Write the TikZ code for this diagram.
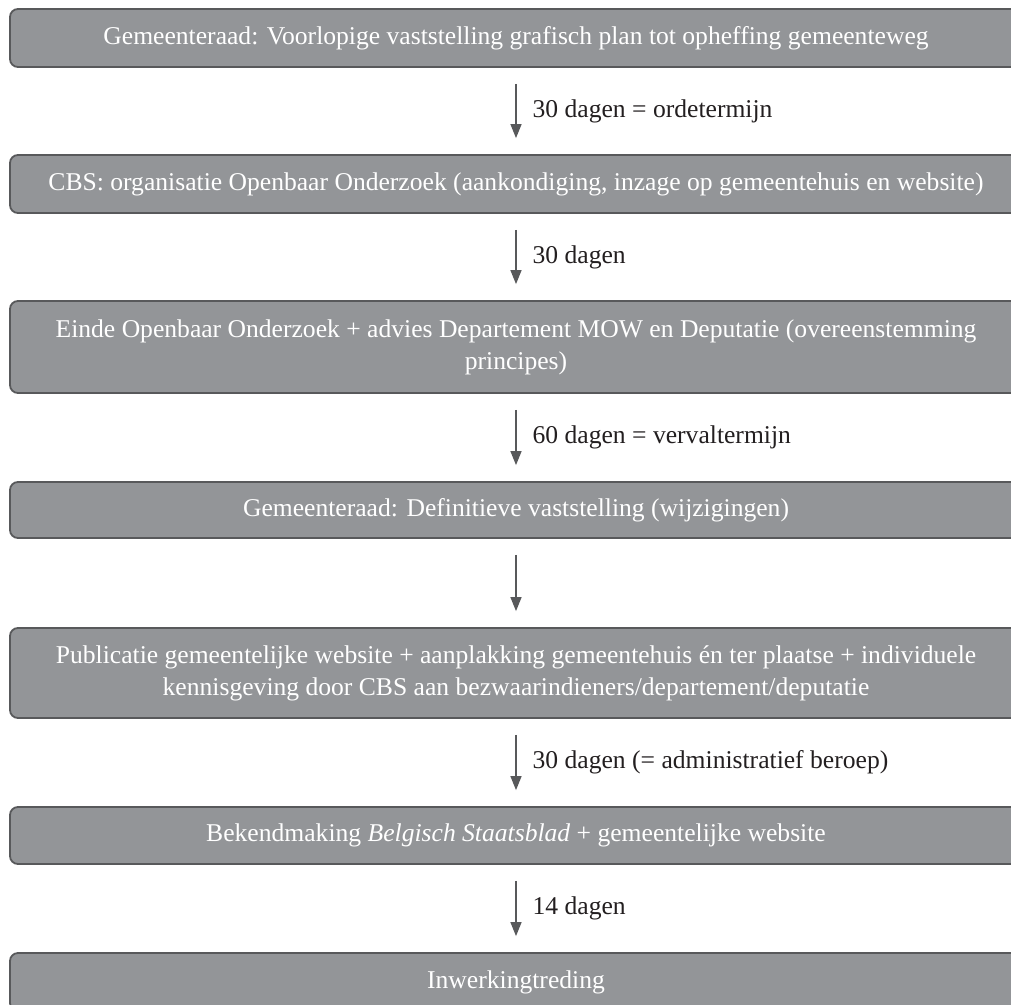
\documentclass[tikz,border=0pt]{standalone}
\usepackage{fontspec}
\setmainfont{Liberation Serif}
\usetikzlibrary{arrows.meta}
\definecolor{boxfill}{RGB}{147,149,152}
\definecolor{boxline}{RGB}{88,89,91}
\definecolor{arrowcol}{RGB}{88,89,91}
\definecolor{labelcol}{RGB}{35,31,32}
\begin{document}
\begin{tikzpicture}[x=1pt,y=-1pt,
  flowbox/.style={draw=boxline, line width=1.8pt, fill=boxfill, rounded corners=8pt,
    minimum width=1012pt, text=white, align=center, inner sep=0pt,
    font=\fontsize{25.6}{32}\selectfont},
  flowarrow/.style={draw=arrowcol, line width=1.3pt, -{Triangle[length=14pt,width=11pt]},
    shorten <=16pt, shorten >=16pt},
  steplabel/.style={text=labelcol, anchor=west, inner sep=0pt, xshift=16pt,
    font=\fontsize{25.6}{30}\selectfont}
]
\clip (0,0) rectangle (1011,1004);
\fill[white] (0,0) rectangle (1011,1004);
\node[flowbox, minimum height=58pt] (b1) at (516,38) {Gemeenteraad: Voorlopige vaststelling grafisch plan tot opheffing gemeenteweg};
\node[flowbox, minimum height=58pt] (b2) at (516,184) {CBS: organisatie Openbaar Onderzoek (aankondiging, inzage op gemeentehuis en website)};
\node[flowbox, minimum height=92pt] (b3) at (516,347) {Einde Openbaar Onderzoek + advies Departement MOW en Deputatie (overeenstemming\\principes)};
\node[flowbox, minimum height=56pt] (b4) at (516,510) {Gemeenteraad: Definitieve vaststelling (wijzigingen)};
\node[flowbox, minimum height=90pt] (b5) at (516,673) {Publicatie gemeentelijke website + aanplakking gemeentehuis én ter plaatse + individuele\\kennisgeving door CBS aan bezwaarindieners/departement/deputatie};
\node[flowbox, minimum height=57pt] (b6) at (516,835.5) {Bekendmaking \textit{Belgisch Staatsblad} + gemeentelijke website};
\node[flowbox, minimum height=58pt] (b7) at (516,982) {Inwerkingtreding};

\draw[flowarrow] (b1.south) -- (b2.north) node[midway, steplabel] {30 dagen = ordetermijn};
\draw[flowarrow] (b2.south) -- (b3.north) node[midway, steplabel] {30 dagen};
\draw[flowarrow] (b3.south) -- (b4.north) node[midway, steplabel] {60 dagen = vervaltermijn};
\draw[flowarrow] (b4.south) -- (b5.north);
\draw[flowarrow] (b5.south) -- (b6.north) node[midway, steplabel] {30 dagen (= administratief beroep)};
\draw[flowarrow] (b6.south) -- (b7.north) node[midway, steplabel] {14 dagen};
\end{tikzpicture}
\end{document}
